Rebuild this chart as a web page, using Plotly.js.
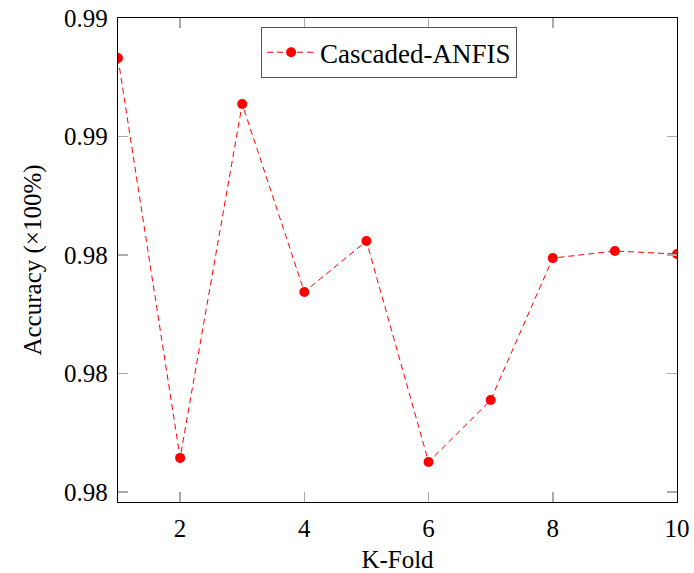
<!DOCTYPE html>
<html>
<head>
<meta charset="utf-8">
<script src="https://cdn.plot.ly/plotly-3.0.1.min.js"></script>
<style>html,body{margin:0;padding:0;background:#fff;}#chart{width:694px;height:573px;}</style>
</head>
<body>
<div id="chart"></div>
<script>
const folds = [1, 2, 3, 4, 5, 6, 7, 8, 9, 10];
const accuracy = [0.99331, 0.97644, 0.99137, 0.98344, 0.98559, 0.97627, 0.97888, 0.98487, 0.98517, 0.98504];
const seriesName = 'Cascaded-ANFIS';
const yTickVals = [0.975, 0.98, 0.985, 0.99, 0.995];
const yTickText = ['0.98', '0.98', '0.98', '0.99', '0.99'];
const xTickVals = [2, 4, 6, 8, 10];

const font = 'Liberation Serif, DejaVu Serif, serif';

Plotly.newPlot('chart', [{
  x: folds,
  y: accuracy,
  name: seriesName,
  type: 'scatter',
  mode: 'lines+markers',
  line: {color: '#ff0000', width: 1, dash: '6px,4px'},
  marker: {color: '#ff0000', size: 10, symbol: 'circle'},
  showlegend: true
}], {
  width: 694, height: 573,
  margin: {l: 118, r: 17, t: 18, b: 71},
  paper_bgcolor: '#fff', plot_bgcolor: '#fff',
  font: {family: font, size: 25, color: '#000'},
  xaxis: {
    range: [1, 10],
    tickvals: xTickVals,
    ticktext: xTickVals.map(String),
    ticks: 'inside', ticklen: 10, tickcolor: '#aaaaaa', tickwidth: 1.5,
    showline: true, linecolor: '#000', linewidth: 1.2, mirror: 'ticks',
    showgrid: false, zeroline: false,
    ticklabelstandoff: 4,
    tickfont: {size: 25},
    title: {text: 'K-Fold', font: {size: 25}, standoff: 9}
  },
  yaxis: {
    range: [0.97458, 0.995],
    tickvals: yTickVals,
    ticktext: yTickText,
    ticks: 'inside', ticklen: 10, tickcolor: '#aaaaaa', tickwidth: 1.5,
    showline: true, linecolor: '#000', linewidth: 1.2, mirror: 'ticks',
    showgrid: false, zeroline: false,
    ticklabelstandoff: 4,
    tickfont: {size: 25},
    title: {text: 'Accuracy (×100%)', font: {size: 25}, standoff: 15}
  },
  legend: {
    x: 0.256, y: 0.981, xanchor: 'left', yanchor: 'top',
    bordercolor: '#555', borderwidth: 1, bgcolor: '#fff',
    itemwidth: 48,
    font: {size: 27}
  }
}, {displayModeBar: false, staticPlot: true});
</script>
</body>
</html>
